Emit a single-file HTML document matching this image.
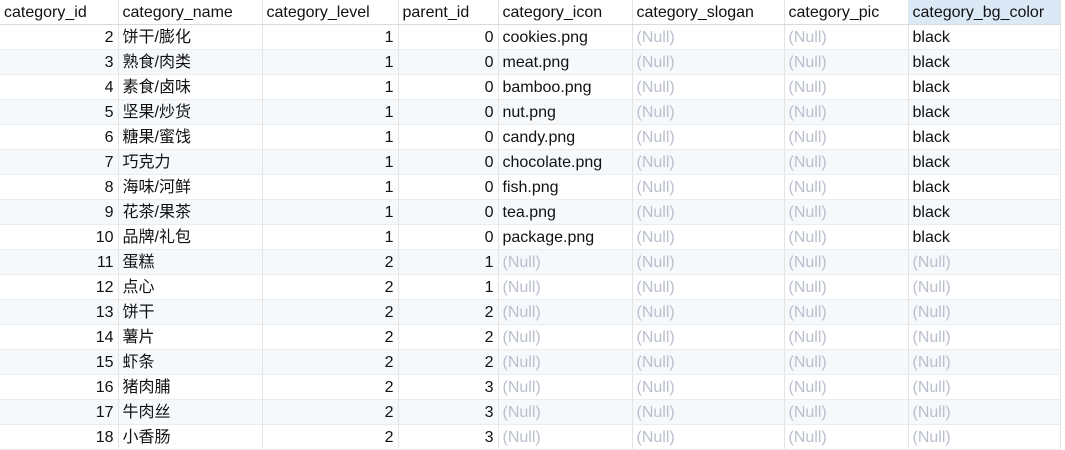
<!DOCTYPE html>
<html><head><meta charset="utf-8"><style>
body{margin:0;width:1065px;height:449px;overflow:hidden;background:#fff;font-family:"Liberation Sans","Noto Sans CJK SC",sans-serif;font-size:16px;color:#111;}
table{border-collapse:collapse;table-layout:fixed;position:absolute;left:0;top:0;}
td{height:23px;padding:1px 4px 0 4px;border-right:1px solid #e4e4e4;border-bottom:1px solid #ececec;white-space:nowrap;overflow:hidden;line-height:23px;}
tr.h td{border-bottom:1px solid #dadada;}
tr:nth-child(odd):not(.h) td{background:#f6f9fc;}
.r{text-align:right;}
.n{color:#b9bfcc;}
.sel{background:#dbe9f7 !important;}
</style></head><body>
<table>
<colgroup><col style="width:118px"><col style="width:144px"><col style="width:136px"><col style="width:100px"><col style="width:134px"><col style="width:152px"><col style="width:124px"><col style="width:152px"></colgroup>
<tr class="h"><td>category_id</td><td>category_name</td><td>category_level</td><td>parent_id</td><td>category_icon</td><td>category_slogan</td><td>category_pic</td><td class="sel">category_bg_color</td></tr>
<tr><td class="r">2</td><td>饼干/膨化</td><td class="r">1</td><td class="r">0</td><td>cookies.png</td><td class="n">(Null)</td><td class="n">(Null)</td><td>black</td></tr>
<tr><td class="r">3</td><td>熟食/肉类</td><td class="r">1</td><td class="r">0</td><td>meat.png</td><td class="n">(Null)</td><td class="n">(Null)</td><td>black</td></tr>
<tr><td class="r">4</td><td>素食/卤味</td><td class="r">1</td><td class="r">0</td><td>bamboo.png</td><td class="n">(Null)</td><td class="n">(Null)</td><td>black</td></tr>
<tr><td class="r">5</td><td>坚果/炒货</td><td class="r">1</td><td class="r">0</td><td>nut.png</td><td class="n">(Null)</td><td class="n">(Null)</td><td>black</td></tr>
<tr><td class="r">6</td><td>糖果/蜜饯</td><td class="r">1</td><td class="r">0</td><td>candy.png</td><td class="n">(Null)</td><td class="n">(Null)</td><td>black</td></tr>
<tr><td class="r">7</td><td>巧克力</td><td class="r">1</td><td class="r">0</td><td>chocolate.png</td><td class="n">(Null)</td><td class="n">(Null)</td><td>black</td></tr>
<tr><td class="r">8</td><td>海味/河鲜</td><td class="r">1</td><td class="r">0</td><td>fish.png</td><td class="n">(Null)</td><td class="n">(Null)</td><td>black</td></tr>
<tr><td class="r">9</td><td>花茶/果茶</td><td class="r">1</td><td class="r">0</td><td>tea.png</td><td class="n">(Null)</td><td class="n">(Null)</td><td>black</td></tr>
<tr><td class="r">10</td><td>品牌/礼包</td><td class="r">1</td><td class="r">0</td><td>package.png</td><td class="n">(Null)</td><td class="n">(Null)</td><td>black</td></tr>
<tr><td class="r">11</td><td>蛋糕</td><td class="r">2</td><td class="r">1</td><td class="n">(Null)</td><td class="n">(Null)</td><td class="n">(Null)</td><td class="n">(Null)</td></tr>
<tr><td class="r">12</td><td>点心</td><td class="r">2</td><td class="r">1</td><td class="n">(Null)</td><td class="n">(Null)</td><td class="n">(Null)</td><td class="n">(Null)</td></tr>
<tr><td class="r">13</td><td>饼干</td><td class="r">2</td><td class="r">2</td><td class="n">(Null)</td><td class="n">(Null)</td><td class="n">(Null)</td><td class="n">(Null)</td></tr>
<tr><td class="r">14</td><td>薯片</td><td class="r">2</td><td class="r">2</td><td class="n">(Null)</td><td class="n">(Null)</td><td class="n">(Null)</td><td class="n">(Null)</td></tr>
<tr><td class="r">15</td><td>虾条</td><td class="r">2</td><td class="r">2</td><td class="n">(Null)</td><td class="n">(Null)</td><td class="n">(Null)</td><td class="n">(Null)</td></tr>
<tr><td class="r">16</td><td>猪肉脯</td><td class="r">2</td><td class="r">3</td><td class="n">(Null)</td><td class="n">(Null)</td><td class="n">(Null)</td><td class="n">(Null)</td></tr>
<tr><td class="r">17</td><td>牛肉丝</td><td class="r">2</td><td class="r">3</td><td class="n">(Null)</td><td class="n">(Null)</td><td class="n">(Null)</td><td class="n">(Null)</td></tr>
<tr><td class="r">18</td><td>小香肠</td><td class="r">2</td><td class="r">3</td><td class="n">(Null)</td><td class="n">(Null)</td><td class="n">(Null)</td><td class="n">(Null)</td></tr>
</table>
</body></html>
